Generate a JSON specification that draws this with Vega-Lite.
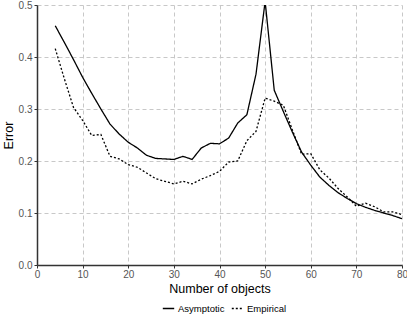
{
  "$schema": "https://vega.github.io/schema/vega-lite/v6.json",
  "width": 365,
  "height": 260,
  "autosize": "none",
  "padding": {"left": 37, "top": 5, "right": 5, "bottom": 55},
  "background": "white",
  "config": {
    "font": "Liberation Sans",
    "view": {"stroke": null},
    "axis": {
      "gridDash": [4, 3],
      "gridColor": "#c8c8c8",
      "gridWidth": 1,
      "domainColor": "#333333",
      "domainWidth": 1.5,
      "tickColor": "#333333",
      "tickSize": 3,
      "labelColor": "#555555",
      "labelFontSize": 10,
      "titleFontSize": 12.5,
      "titleFontWeight": "normal",
      "titleColor": "#000000"
    },
    "legend": {"labelFontSize": 9.5, "labelColor": "#000000"}
  },
  "datasets": {
    "d": [
      {"n": 4, "e": 0.46, "s": "Asymptotic"},
      {"n": 6, "e": 0.428, "s": "Asymptotic"},
      {"n": 8, "e": 0.395, "s": "Asymptotic"},
      {"n": 10, "e": 0.361, "s": "Asymptotic"},
      {"n": 12, "e": 0.33, "s": "Asymptotic"},
      {"n": 14, "e": 0.3, "s": "Asymptotic"},
      {"n": 16, "e": 0.271, "s": "Asymptotic"},
      {"n": 18, "e": 0.252, "s": "Asymptotic"},
      {"n": 20, "e": 0.236, "s": "Asymptotic"},
      {"n": 22, "e": 0.225, "s": "Asymptotic"},
      {"n": 24, "e": 0.211, "s": "Asymptotic"},
      {"n": 26, "e": 0.205, "s": "Asymptotic"},
      {"n": 28, "e": 0.204, "s": "Asymptotic"},
      {"n": 30, "e": 0.203, "s": "Asymptotic"},
      {"n": 32, "e": 0.209, "s": "Asymptotic"},
      {"n": 34, "e": 0.203, "s": "Asymptotic"},
      {"n": 36, "e": 0.225, "s": "Asymptotic"},
      {"n": 38, "e": 0.234, "s": "Asymptotic"},
      {"n": 40, "e": 0.233, "s": "Asymptotic"},
      {"n": 42, "e": 0.244, "s": "Asymptotic"},
      {"n": 44, "e": 0.273, "s": "Asymptotic"},
      {"n": 46, "e": 0.289, "s": "Asymptotic"},
      {"n": 48, "e": 0.367, "s": "Asymptotic"},
      {"n": 50, "e": 0.507, "s": "Asymptotic"},
      {"n": 52, "e": 0.336, "s": "Asymptotic"},
      {"n": 54, "e": 0.295, "s": "Asymptotic"},
      {"n": 56, "e": 0.255, "s": "Asymptotic"},
      {"n": 58, "e": 0.217, "s": "Asymptotic"},
      {"n": 60, "e": 0.192, "s": "Asymptotic"},
      {"n": 62, "e": 0.169, "s": "Asymptotic"},
      {"n": 64, "e": 0.153, "s": "Asymptotic"},
      {"n": 66, "e": 0.139, "s": "Asymptotic"},
      {"n": 68, "e": 0.128, "s": "Asymptotic"},
      {"n": 70, "e": 0.118, "s": "Asymptotic"},
      {"n": 72, "e": 0.111, "s": "Asymptotic"},
      {"n": 74, "e": 0.105, "s": "Asymptotic"},
      {"n": 76, "e": 0.1, "s": "Asymptotic"},
      {"n": 78, "e": 0.095, "s": "Asymptotic"},
      {"n": 80, "e": 0.089, "s": "Asymptotic"},
      {"n": 4, "e": 0.416, "s": "Empirical"},
      {"n": 6, "e": 0.358, "s": "Empirical"},
      {"n": 8, "e": 0.303, "s": "Empirical"},
      {"n": 10, "e": 0.278, "s": "Empirical"},
      {"n": 12, "e": 0.249, "s": "Empirical"},
      {"n": 14, "e": 0.251, "s": "Empirical"},
      {"n": 16, "e": 0.209, "s": "Empirical"},
      {"n": 18, "e": 0.204, "s": "Empirical"},
      {"n": 20, "e": 0.193, "s": "Empirical"},
      {"n": 22, "e": 0.188, "s": "Empirical"},
      {"n": 24, "e": 0.177, "s": "Empirical"},
      {"n": 26, "e": 0.166, "s": "Empirical"},
      {"n": 28, "e": 0.161, "s": "Empirical"},
      {"n": 30, "e": 0.156, "s": "Empirical"},
      {"n": 32, "e": 0.161, "s": "Empirical"},
      {"n": 34, "e": 0.156, "s": "Empirical"},
      {"n": 36, "e": 0.165, "s": "Empirical"},
      {"n": 38, "e": 0.172, "s": "Empirical"},
      {"n": 40, "e": 0.18, "s": "Empirical"},
      {"n": 42, "e": 0.198, "s": "Empirical"},
      {"n": 44, "e": 0.2, "s": "Empirical"},
      {"n": 46, "e": 0.239, "s": "Empirical"},
      {"n": 48, "e": 0.257, "s": "Empirical"},
      {"n": 50, "e": 0.321, "s": "Empirical"},
      {"n": 52, "e": 0.315, "s": "Empirical"},
      {"n": 54, "e": 0.307, "s": "Empirical"},
      {"n": 56, "e": 0.259, "s": "Empirical"},
      {"n": 58, "e": 0.213, "s": "Empirical"},
      {"n": 60, "e": 0.214, "s": "Empirical"},
      {"n": 62, "e": 0.183, "s": "Empirical"},
      {"n": 64, "e": 0.167, "s": "Empirical"},
      {"n": 66, "e": 0.147, "s": "Empirical"},
      {"n": 68, "e": 0.131, "s": "Empirical"},
      {"n": 70, "e": 0.113, "s": "Empirical"},
      {"n": 72, "e": 0.119, "s": "Empirical"},
      {"n": 74, "e": 0.112, "s": "Empirical"},
      {"n": 76, "e": 0.102, "s": "Empirical"},
      {"n": 78, "e": 0.102, "s": "Empirical"},
      {"n": 80, "e": 0.097, "s": "Empirical"}
    ]
  },
  "data": {"name": "d"},
  "mark": {"type": "line", "clip": true, "strokeWidth": 1.3, "color": "black"},
  "encoding": {
    "x": {
      "field": "n", "type": "quantitative",
      "scale": {"domain": [0, 80], "nice": false},
      "axis": {"title": "Number of objects", "values": [0,10,20,30,40,50,60,70,80], "labelPadding": 1, "titlePadding": 3, "labelFlush": false}
    },
    "y": {
      "field": "e", "type": "quantitative",
      "scale": {"domain": [0, 0.5], "nice": false},
      "axis": {"title": "Error", "values": [0,0.1,0.2,0.3,0.4,0.5], "format": ".1f", "labelPadding": 2, "titlePadding": 3, "labelFlush": false}
    },
    "strokeDash": {
      "field": "s", "type": "nominal",
      "scale": {"domain": ["Asymptotic", "Empirical"], "range": [[1, 0], [2, 2]]},
      "legend": {"title": null, "orient": "none", "legendX": 125, "legendY": 297, "direction": "horizontal", "symbolType": "stroke", "symbolStrokeColor": "black", "symbolSize": 130, "symbolStrokeWidth": 1.3, "columnPadding": 4, "labelOffset": 3}
    }
  }
}
